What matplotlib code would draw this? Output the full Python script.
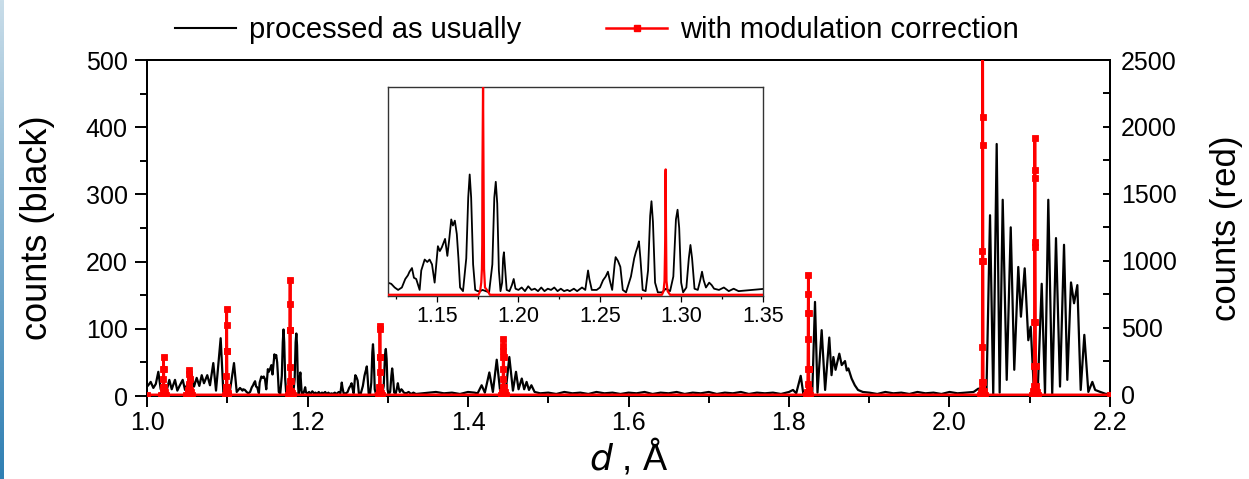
import numpy as np
import matplotlib
matplotlib.use("Agg")
import matplotlib.pyplot as plt
from matplotlib.ticker import MultipleLocator, FormatStrFormatter
from matplotlib.lines import Line2D
from matplotlib.colors import LinearSegmentedColormap

plt.rcParams['font.family'] = ['Liberation Sans', 'DejaVu Sans']

# ---------------- data ----------------
black_d = [
    1.0000, 1.0016, 1.0046, 1.0079, 1.0110, 1.0141, 1.0171, 1.0205, 1.0245, 1.0278,
    1.0308, 1.0349, 1.0378, 1.0410, 1.0445, 1.0474, 1.0510, 1.0545, 1.0586, 1.0619,
    1.0652, 1.0682, 1.0710, 1.0751, 1.0785, 1.0826, 1.0860, 1.0918, 1.0951, 1.0993,
    1.1034, 1.1084, 1.1118, 1.1159, 1.1190,
    1.1199, 1.1220, 1.1241, 1.1262, 1.1285, 1.1306, 1.1322, 1.1332, 1.1347, 1.1359,
    1.1373, 1.1394, 1.1404, 1.1425, 1.1441, 1.1455, 1.1470, 1.1486, 1.1506, 1.1518,
    1.1530, 1.1550, 1.1564, 1.1575, 1.1588, 1.1598, 1.1610, 1.1622, 1.1632, 1.1642,
    1.1660, 1.1680, 1.1692, 1.1701, 1.1710, 1.1722, 1.1735, 1.1750, 1.1765, 1.1780,
    1.1800, 1.1820, 1.1840, 1.1852, 1.1861, 1.1870, 1.1880, 1.1890, 1.1900, 1.1906,
    1.1911, 1.1918, 1.1928, 1.1945, 1.1960, 1.1971, 1.1982, 1.2000, 1.2020, 1.2040,
    1.2060, 1.2080, 1.2100, 1.2120, 1.2140, 1.2160, 1.2180, 1.2200, 1.2220, 1.2240,
    1.2260, 1.2280, 1.2300, 1.2315, 1.2340, 1.2360, 1.2390, 1.2410, 1.2427, 1.2435,
    1.2450, 1.2480, 1.2500, 1.2519, 1.2535, 1.2549, 1.2560, 1.2575, 1.2590, 1.2596,
    1.2610, 1.2625, 1.2640, 1.2660, 1.2690, 1.2710, 1.2720, 1.2732, 1.2739, 1.2748,
    1.2762, 1.2780, 1.2795, 1.2808, 1.2816, 1.2825, 1.2838, 1.2855, 1.2880, 1.2905,
    1.2930, 1.2950, 1.2966, 1.2976, 1.2986, 1.2998, 1.3010, 1.3030, 1.3045, 1.3055,
    1.3065, 1.3080, 1.3100, 1.3115, 1.3126, 1.3136, 1.3150, 1.3170, 1.3185, 1.3200,
    1.3230, 1.3260, 1.3290, 1.3320, 1.3350,
    1.3600, 1.3700, 1.3800, 1.3900, 1.4000, 1.4080, 1.4120, 1.4170, 1.4210, 1.4266,
    1.4310, 1.4358, 1.4400, 1.4440, 1.4470, 1.4515, 1.4560, 1.4598, 1.4630, 1.4670,
    1.4700, 1.4730, 1.4760, 1.4790, 1.4830, 1.4900,
    1.50, 1.51, 1.52, 1.53, 1.54, 1.55, 1.56, 1.57, 1.58, 1.59,
    1.60, 1.61, 1.62, 1.63, 1.64, 1.65, 1.66, 1.67, 1.68, 1.69,
    1.70, 1.71, 1.72, 1.73, 1.74, 1.75, 1.76, 1.77, 1.78, 1.79,
    1.800, 1.805, 1.809, 1.8146, 1.818, 1.824, 1.829, 1.8324, 1.8355, 1.8407,
    1.845, 1.8502, 1.853, 1.8553, 1.858, 1.8627, 1.8657, 1.8698, 1.872, 1.874,
    1.878, 1.882, 1.886, 1.892,
    1.90, 1.91, 1.92, 1.93, 1.94, 1.95, 1.96, 1.97, 1.98, 1.99,
    2.00, 2.01, 2.02, 2.03, 2.036, 2.040,
    2.046, 2.0505, 2.0545, 2.0588, 2.0625, 2.0663, 2.0713, 2.0763, 2.0807, 2.0857,
    2.0890, 2.0937, 2.0982, 2.1012, 2.1053, 2.1065, 2.1100, 2.1149, 2.1190, 2.1231,
    2.1280, 2.1327, 2.1377, 2.1427, 2.1468, 2.1514, 2.1552, 2.1593, 2.1635, 2.1680,
    2.1730, 2.1780, 2.1815, 2.1880, 2.1950, 2.2000,
]
black_counts = [
    14, 16, 21, 12, 18, 36, 10, 14, 8, 24,
    10, 24, 8, 16, 24, 9, 20, 39, 14, 27,
    15, 31, 19, 31, 16, 49, 8, 86, 6, 10,
    8, 49, 6, 12, 8,
    10, 9, 6, 4, 6, 13, 16, 19, 22, 14,
    13, 4, 20, 29, 27, 29, 25, 10, 40, 36,
    39, 46, 32, 45, 62, 57, 61, 50, 30, 6,
    3, 30, 80, 99, 80, 25, 4, 3, 3, 4,
    3, 2, 25, 80, 93, 75, 20, 3, 10, 30,
    35, 22, 4, 3, 8, 13, 5, 4, 6, 3,
    7, 4, 5, 3, 6, 3, 5, 4, 6, 3,
    5, 3, 4, 3, 5, 3, 6, 4, 20, 13,
    4, 4, 6, 12, 15, 19, 12, 4, 25, 31,
    28, 23, 4, 2, 15, 30, 35, 40, 44, 30,
    4, 3, 20, 65, 77, 60, 10, 2, 2, 5,
    3, 15, 62, 70, 55, 10, 2, 6, 30, 41,
    30, 5, 4, 12, 19, 12, 6, 10, 8, 5,
    4, 6, 3, 5, 3,
    6, 4, 5, 3, 6, 5, 4, 16, 5, 35,
    6, 54, 8, 10, 8, 58, 8, 36, 10, 26,
    10, 21, 9, 16, 6, 4,
    5, 3, 6, 4, 5, 3, 6, 4, 5, 3,
    5, 4, 6, 3, 5, 4, 6, 3, 5, 4,
    6, 3, 5, 4, 6, 3, 5, 4, 5, 3,
    6, 9, 4, 30, 2, 3, 5, 140, 5, 98,
    9, 87, 31, 58, 39, 63, 46, 52, 38, 41,
    26, 16, 9, 6,
    5, 3, 6, 4, 5, 3, 6, 4, 5, 3,
    6, 4, 5, 6, 11, 4,
    2, 269, 2, 375, 5, 292, 24, 251, 39, 192,
    118, 190, 83, 103, 5, 3, 10, 167, 4, 292,
    3, 235, 14, 225, 24, 169, 138, 165, 9, 91,
    6, 21, 9, 6, 3, 4,
]

red_d = [
    1.0000,
    1.0180, 1.0195, 1.0200, 1.0203, 1.0205, 1.0206, 1.0208, 1.0211, 1.0220, 1.0235,
    1.0490, 1.0505, 1.0515, 1.0522, 1.0525, 1.0527, 1.0530, 1.0535, 1.0545, 1.0560,
    1.0970, 1.0982, 1.0988, 1.0990, 1.0991, 1.0992, 1.0993, 1.0995, 1.0998, 1.1005, 1.1015,
    1.1755, 1.1765, 1.1772, 1.1776, 1.1778, 1.1779, 1.1781, 1.1783, 1.1786, 1.1789, 1.1795, 1.1812, 1.1825,
    1.2880, 1.2890, 1.2896, 1.2899, 1.2901, 1.2902, 1.2903, 1.2905, 1.2908, 1.2915, 1.2930,
    1.4415, 1.4428, 1.4434, 1.4437, 1.4438, 1.4439, 1.4440, 1.4441, 1.4442, 1.4444, 1.4447, 1.4455, 1.4470,
    1.8215, 1.8228, 1.8233, 1.8236, 1.8238, 1.8239, 1.8240, 1.8241, 1.8243, 1.8246, 1.8250, 1.8265,
    2.0385, 2.0398, 2.0404, 2.0407, 2.0409, 2.0410, 2.0411, 2.0412, 2.0413, 2.0415, 2.0417, 2.0420, 2.0428, 2.0440,
    2.1030, 2.1045, 2.1052, 2.1056, 2.1058, 2.1060, 2.1062, 2.1064, 2.1066, 2.1068, 2.1071, 2.1074, 2.1078, 2.1090, 2.1100,
    2.2000,
]
red_counts = [
    0,
    0, 30, 60, 119, 193, 285, 193, 60, 20, 0,
    0, 25, 40, 82, 156, 188, 120, 40, 25, 0,
    0, 20, 57, 144, 330, 521, 640, 330, 57, 15, 0,
    0, 15, 50, 106, 206, 486, 677, 858, 486, 106, 30, 15, 0,
    0, 15, 57, 169, 280, 491, 516, 280, 57, 15, 0,
    0, 20, 57, 119, 193, 280, 330, 367, 417, 280, 57, 20, 0,
    0, 25, 82, 193, 417, 615, 751, 893, 615, 193, 40, 0,
    0, 20, 45, 94, 355, 999, 1074, 1868, 2650, 2078, 999, 94, 30, 0,
    0, 30, 69, 218, 541, 1106, 1620, 1917, 1676, 1141, 541, 218, 69, 25, 0,
    0,
]

legend_labels = ["processed as usually", "with modulation correction"]

W, H = 1249, 479
fig = plt.figure(figsize=(W / 100, H / 100), dpi=100)

# slide decoration: blue stripe at the left edge
strip = fig.add_axes([0, 0, 4 / W, 1])
grad = np.linspace(0, 1, 256).reshape(-1, 1)
cm = LinearSegmentedColormap.from_list("s", ["#2f7fb3", "#c9dde9"])
strip.imshow(grad, aspect='auto', cmap=cm, origin='lower')
strip.set_axis_off()

# ---------------- main axes ----------------
L, R, T, B = 147, 1110, 60, 396
ax = fig.add_axes([L / W, 1 - B / H, (R - L) / W, (B - T) / H])
ax.plot(black_d, black_counts, color='black', lw=1.6, zorder=2)
ax.set_xlim(1.0, 2.2)
ax.set_ylim(0, 500)
ax.xaxis.set_major_locator(MultipleLocator(0.2))
ax.xaxis.set_minor_locator(MultipleLocator(0.1))
ax.xaxis.set_major_formatter(FormatStrFormatter('%.1f'))
ax.yaxis.set_major_locator(MultipleLocator(100))
ax.yaxis.set_minor_locator(MultipleLocator(50))
ax.tick_params(axis='x', which='major', direction='out', length=8, width=1.4,
               labelsize=18, pad=3)
ax.tick_params(axis='x', which='minor', direction='out', length=5, width=1.4)
ax.tick_params(axis='y', which='major', direction='out', length=9, width=1.4,
               labelsize=18, pad=5)
ax.tick_params(axis='y', which='minor', direction='out', length=5, width=1.4)
ax.tick_params(axis='y', which='both', right=False)
for s in ax.spines.values():
    s.set_linewidth(1.4)
ax.set_ylabel("counts (black)", fontsize=26, labelpad=22)
ax.set_xlabel(r"$d$ , Å", fontsize=26, labelpad=1)

ax2 = ax.twinx()
ax2.plot(red_d, red_counts, color='red', lw=2.0, marker='s', ms=4.2,
         markeredgewidth=0.6, zorder=3)
ax2.set_ylim(-8, 2500)
ax2.yaxis.set_major_locator(MultipleLocator(500))
ax2.yaxis.set_minor_locator(MultipleLocator(250))
ax2.tick_params(axis='y', which='both', direction='in', length=5, width=1.4,
                labelsize=18, pad=8)
ax2.set_ylabel("counts (red)", fontsize=25, labelpad=24)
ax2.spines['bottom'].set_visible(False)
for s in ax2.spines.values():
    s.set_linewidth(1.4)

# ---------------- inset ----------------
iL, iR, iT, iB = 388, 763, 87, 296
axi = fig.add_axes([iL / W, 1 - iB / H, (iR - iL) / W, (iB - iT) / H])
axi.plot(black_d, black_counts, color='black', lw=1.3)
axi.set_xlim(1.12, 1.35)
axi.set_ylim(-1, 171)
axi.set_yticks([])
axi.xaxis.set_major_locator(MultipleLocator(0.05))
axi.xaxis.set_minor_locator(MultipleLocator(0.025))
axi.xaxis.set_major_formatter(FormatStrFormatter('%.2f'))
axi.tick_params(axis='x', which='major', direction='out', length=4, width=0.9,
                labelsize=15.5, pad=3)
axi.tick_params(axis='x', which='minor', direction='out', length=2.5, width=0.9)
for s in axi.spines.values():
    s.set_linewidth(1.0)
    s.set_color('#333333')
axi2 = axi.twinx()
axi2.plot(red_d, red_counts, color='red', lw=1.6)
axi2.set_ylim(-5, 855)
axi2.set_yticks([])
for s in axi2.spines.values():
    s.set_visible(False)

# ---------------- legend ----------------
handles = [Line2D([], [], color='black', lw=1.5),
           Line2D([], [], color='red', lw=1.8, marker='s', ms=4)]
fig.legend(handles, legend_labels, loc='center', bbox_to_anchor=(0.478, 0.937),
           ncol=2, frameon=False, fontsize=21, handlelength=2.1, numpoints=1,
           columnspacing=2.9, handletextpad=0.45)

fig.savefig("out.png", dpi=100)
